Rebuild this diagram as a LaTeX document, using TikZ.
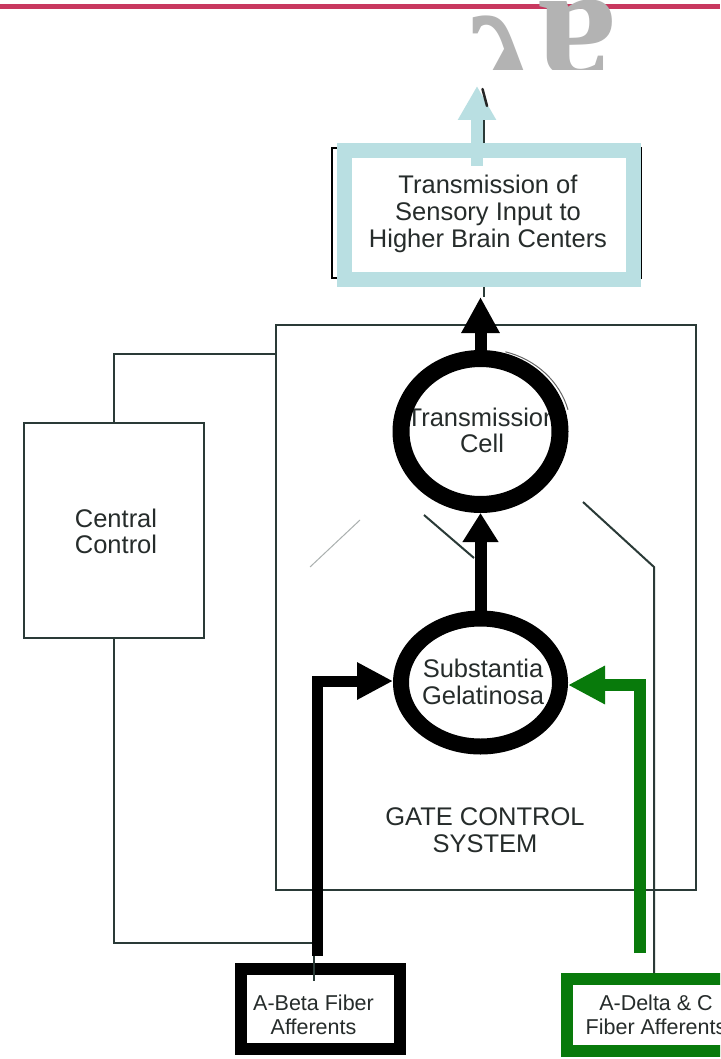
\documentclass[tikz,border=0pt]{standalone}
\usepackage{fontspec}
\setmainfont{Liberation Sans}
\newfontfamily\wmfont{Liberation Serif}
\usetikzlibrary{arrows.meta,shapes.geometric}
\definecolor{inkline}{HTML}{2A3A37}
\definecolor{inktext}{HTML}{262C2B}
\definecolor{boxblue}{HTML}{B9DFE2}
\definecolor{fibgreen}{HTML}{087A0B}
\definecolor{topred}{HTML}{C8385F}
\definecolor{wmgray}{HTML}{B3B3B3}
\begin{document}
\begin{tikzpicture}[x=1pt,y=-1pt,
  thinline/.style={draw=inkline, line width=2pt},
  lbl/.style={text=inktext, font=\fontsize{25.5}{26.5}\selectfont, align=center, inner sep=0pt},
  smalllbl/.style={text=inktext, font=\fontsize{21.5}{24}\selectfont, align=center},
  plainbox/.style={draw=inkline, line width=2pt, inner sep=0pt},
  ring/.style={ellipse, draw=black, inner sep=0pt},
  fatarrow/.style={draw=black, line width=12pt, line join=miter,
    -{Triangle[length=36pt,width=36pt]}},
  wmletter/.style={text=wmgray, inner sep=0pt},
]
\useasboundingbox (0,0) rectangle (720,1059);
\clip (0,0) rectangle (720,1059);
\fill[white] (0,0) rectangle (720,1059);

% top rule and grey lettering
\fill[topred] (0,4) rectangle (720,9);
\begin{scope}
  \clip (430,0) rectangle (660,70);
  \node[wmletter, font=\wmfont\bfseries\fontsize{150}{150}\selectfont,
        xscale=1.1, anchor=base west] (wma) at (465,122) {λ};
  \node[wmletter, font=\wmfont\bfseries\fontsize{160}{160}\selectfont,
        rotate=180, anchor=base] (wmb) at (577,2) {a};
\end{scope}

% thin line running up through the output box
\draw[thinline] (484,100) -- (484,297);

% output box
\draw[draw=black, line width=1.5pt] (332,148) rectangle (641,278);
\node[draw=boxblue, fill=white, line width=15pt, minimum width=289pt,
      minimum height=128pt, inner sep=0pt] (out) at (488.5,215) {};
\node[lbl, font=\fontsize{25.5}{27}\selectfont] (outtxt) at (488,213.5)
  {Transmission of\\Sensory Input to\\Higher Brain Centers};
\coordinate (outtip) at (477,86);
\draw[draw=boxblue, line width=12pt, -{Triangle[length=34pt,width=36pt]}]
  (477,166) -- (outtip);
\draw[black!85, line width=2.5pt, line cap=round] (482.5,89) -- (487,106);

% gate control system frame and central control
\node[plainbox, minimum width=420pt, minimum height=565pt] (gate) at (486,607.5) {};
\node[plainbox, minimum width=180pt, minimum height=215pt] (cc) at (114,530.5) {};
\node[lbl] (cctxt) at (116,531.5) {Central\\Control};
\draw[thinline] (cc.north) |- (gate.west |- 0,354);

% remnants of the fibre lines inside the frame
\draw[draw=inkline, line width=2pt] (424,515) -- (474,558);
\draw[draw=inkline!40, line width=1pt] (310,567) -- (360,520);
\node[lbl] (gcs) at (485,830) {GATE CONTROL\\SYSTEM};

% afferent boxes
\node[draw=black, line width=12pt, minimum width=159pt, minimum height=80pt,
      inner sep=0pt] (abeta) at (320.5,1009) {};
\node[smalllbl] (abetatxt) at (313.5,1015) {A-Beta Fiber\\Afferents};
\node[draw=fibgreen, line width=12pt, minimum width=178pt, minimum height=72pt,
      inner sep=0pt] (adelta) at (656,1015) {};
\node[smalllbl] (adeltatxt) at (656,1015) {A-Delta \& C\\Fiber Afferents};

\coordinate (bend) at (654,567);
\draw[thinline] (cc.south) |- (314,943) -- (314,981);
\draw[thinline] (583,502) -- (bend) -- (bend |- adelta.north);

% cells
\node[lbl] (tctxt) at (482,430.5) {Transmission\\Cell};
\node[ring, line width=17pt, minimum width=159pt, minimum height=146pt] (tc) at (480.5,431.5) {};
\draw[black!60, line width=1pt] (482.5,431) ++(-15:88.5 and 82)
  arc[start angle=-15, end angle=-75, x radius=88.5, y radius=82];
\node[lbl, font=\fontsize{25.5}{27}\selectfont] (sgtxt) at (483,681.5) {Substantia\\Gelatinosa};
\node[ring, line width=16pt, minimum width=159pt, minimum height=128pt] (sg) at (480.5,682.5) {};

% signal arrows
\draw[fatarrow, -{Triangle[length=29pt,width=34pt]}] (sg.north) -- (tc.south);
\draw[fatarrow] (tc.north) -- (tc.north |- 0,297);
\draw[fatarrow, line width=11pt, -{Triangle[length=36pt,width=35pt]}]
  (317,956) |- (sg.west |- 0,681);
\draw[fatarrow, draw=fibgreen, -{Triangle[length=37pt,width=36pt]}]
  (640,953) |- (sg.east |- 0,685);
\end{tikzpicture}
\end{document}
